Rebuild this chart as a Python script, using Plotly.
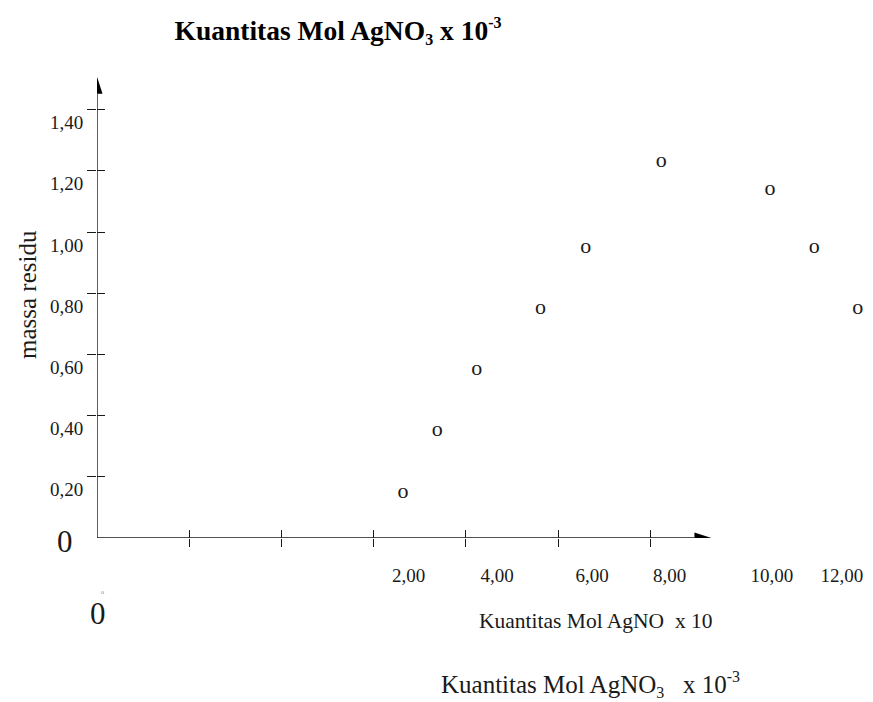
import plotly.graph_objects as go

# ---------------- data ----------------
# x positions are expressed in the chart's own axis units (one unit = one drawn tick interval)
mol_agno3 = [3.32, 3.69, 4.12, 4.81, 5.30, 6.12, 7.30, 7.78, 8.25]
massa_residu = [0.15, 0.35, 0.55, 0.75, 0.95, 1.23, 1.14, 0.95, 0.75]

x_tick_vals = [1, 2, 3, 4, 5, 6]
x_tick_label_vals = [3.38, 4.34, 5.37, 6.21, 7.32, 8.08]
x_tick_labels = ["2,00", "4,00", "6,00", "8,00", "10,00", "12,00"]

y_tick_vals = [0.2, 0.4, 0.6, 0.8, 1.0, 1.2, 1.4]
y_tick_labels = ["0,20", "0,40", "0,60", "0,80", "1,00", "1,20", "1,40"]

x_axis_end = 6.48
y_axis_end = 1.452

# ---------------- layout constants ----------------
# the page body adds an 8px margin, so the figure is 8px smaller and all
# reference pixel positions are shifted by OFF
OFF = 8
W, H = 873 - OFF, 702 - OFF
L, R, T, B = 89, 0, 62, 164
X_UNIT_PX = 92.2
Y_UNIT_PX = 306.0
SERIF = "Liberation Serif"
INK = "#1a1a1a"

x_range = [0, (W - L - R) / X_UNIT_PX]
y_range = [0, (H - T - B) / Y_UNIT_PX]

fig = go.Figure()

fig.add_trace(go.Scatter(
    x=mol_agno3, y=massa_residu, mode="text",
    text=["o"] * len(mol_agno3), textposition="middle center",
    textfont=dict(family=SERIF, size=22, color=INK),
    hoverinfo="skip", showlegend=False, cliponaxis=False,
))
# helper (empty) traces so the overlay axes are drawn
fig.add_trace(go.Scatter(x=[], y=[], xaxis="x2", yaxis="y2", showlegend=False, hoverinfo="skip"))
fig.add_trace(go.Scatter(x=[], y=[], xaxis="x3", yaxis="y", showlegend=False, hoverinfo="skip"))

common = dict(showgrid=False, zeroline=False, showline=False, fixedrange=True)

fig.update_layout(
    width=W, height=H,
    margin=dict(l=L, r=R, t=T, b=B, pad=0),
    paper_bgcolor="white", plot_bgcolor="white",
    font=dict(family=SERIF, color=INK),
    title=dict(
        text=("<b>Kuantitas Mol AgNO<sub><span style='font-size:16px'>3</span></sub>"
              " x 10<sup><span style='font-size:16px'>-3</span></sup></b>"),
        font=dict(family=SERIF, size=27.5, color="black"),
        x=(338 - OFF) / W, xref="container", xanchor="center",
        y=1 - (30 - OFF) / H, yref="container", yanchor="middle",
    ),
    xaxis=dict(range=x_range, tickvals=x_tick_vals, ticks="outside", ticklen=8,
               tickwidth=1.2, tickcolor=INK, showticklabels=False, **common),
    xaxis2=dict(range=x_range, overlaying="x", anchor="y", tickvals=x_tick_vals,
                ticks="inside", ticklen=8, tickwidth=1.2, tickcolor=INK,
                showticklabels=False, **common),
    xaxis3=dict(range=x_range, overlaying="x", anchor="y", tickvals=x_tick_label_vals,
                ticktext=x_tick_labels, ticks="", ticklabelstandoff=24,
                tickfont=dict(family=SERIF, size=19, color=INK), **common),
    yaxis=dict(range=y_range, tickvals=y_tick_vals, ticktext=y_tick_labels,
               ticks="outside", ticklen=9, tickwidth=1.2, tickcolor=INK,
               ticklabelshift=13, tickfont=dict(family=SERIF, size=19, color=INK), **common),
    yaxis2=dict(range=y_range, overlaying="y", anchor="x", tickvals=y_tick_vals,
                ticks="inside", ticklen=8, tickwidth=1.2, tickcolor=INK,
                showticklabels=False, **common),
)

# axis lines with arrowheads
fig.add_shape(type="line", xref="x", yref="y", x0=0, y0=0, x1=0, y1=y_axis_end,
              line=dict(color=INK, width=1.4))
fig.add_shape(type="line", xref="x", yref="y", x0=0, y0=0, x1=x_axis_end, y1=0,
              line=dict(color=INK, width=1.4))
fig.add_shape(type="path", xref="x", yref="y", xsizemode="pixel", ysizemode="pixel",
              xanchor=0, yanchor=y_axis_end, path="M-5.5,0 L5.5,0 L0,17 Z",
              fillcolor="black", line=dict(width=0))
fig.add_shape(type="path", xref="x", yref="y", xsizemode="pixel", ysizemode="pixel",
              xanchor=x_axis_end, yanchor=0, path="M0,-5.5 L17,0 L0,5.5 Z",
              fillcolor="black", line=dict(width=0))

pw, ph = W - L - R, H - T - B
def px(xp):
    return (xp - OFF - L) / pw
def py(yp):
    return (H - B - (yp - OFF)) / ph

ann = [
    dict(text="massa residu", x=px(27), y=py(295), textangle=-90,
         font=dict(family=SERIF, size=25, color=INK)),
    dict(text="0", x=px(65), y=py(541), font=dict(family=SERIF, size=31, color=INK)),
    dict(text="0", x=px(98), y=py(613), font=dict(family=SERIF, size=31, color=INK)),
    dict(text="o", x=px(102), y=py(592), font=dict(family=SERIF, size=6, color="#777")),
    dict(text="Kuantitas Mol AgNO&nbsp; x 10", x=px(596), y=py(621),
         font=dict(family=SERIF, size=21.5, color=INK)),
    dict(text=("Kuantitas Mol AgNO<sub><span style='font-size:16px'>3</span></sub>"
               "&nbsp;&nbsp; x 10<sup><span style='font-size:16px'>-3</span></sup>"),
         x=px(590), y=py(684), font=dict(family=SERIF, size=25, color=INK)),
]
for a in ann:
    fig.add_annotation(xref="paper", yref="paper", showarrow=False,
                       xanchor="center", yanchor="middle", **a)

fig.write_html("out.html")
